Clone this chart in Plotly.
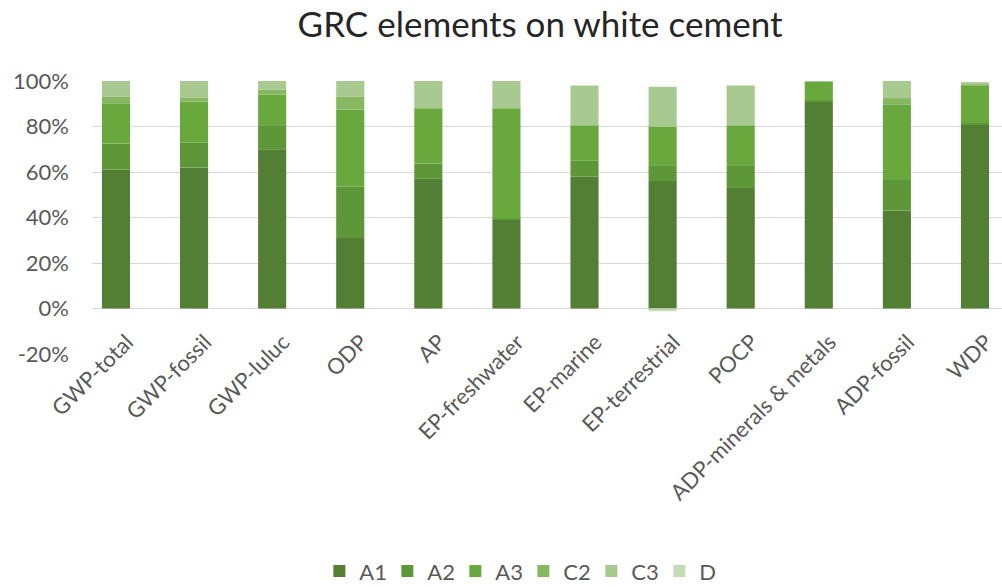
import plotly.graph_objects as go

categories = ["GWP-total", "GWP-fossil", "GWP-luluc", "ODP", "AP", "EP-freshwater",
              "EP-marine", "EP-terrestrial", "POCP", "ADP-minerals & metals",
              "ADP-fossil", "WDP"]

A1 = [61, 62, 70, 31, 57, 39, 58, 56, 53, 91, 43, 81]
A2 = [11.5, 11, 10.6, 22.5, 6.7, 0.5, 7, 7, 10, 0.6, 13.5, 0.5]
A3 = [17.7, 18, 13.5, 34, 24.3, 48.5, 15.5, 17, 17.5, 8, 33, 16.5]
C2 = [3, 1.5, 2, 5.5, 0, 0, 0, 0, 0, 0, 3, 0.3]
C3 = [6.8, 7.5, 3.9, 7, 12, 12, 17.5, 17.5, 17.5, 0.4, 7.5, 1.2]
D = [0, 0, 0, 0, 0, 0, 0, -1.2, 0, 0, 0, 0]

y_ticks = [-20, 0, 20, 40, 60, 80, 100]
y_tick_labels = ["-20%", "0%", "20%", "40%", "60%", "80%", "100%"]

series = [("A1", A1, "#527f33"), ("A2", A2, "#5e9738"), ("A3", A3, "#68a83d"),
          ("C2", C2, "#86b862"), ("C3", C3, "#a8c98f"), ("D", D, "#c5dbb5")]

FONT = "Lato"
GREY = "#595959"

fig = go.Figure()
for name, vals, col in series:
    fig.add_trace(go.Bar(x=categories, y=vals, name=name, marker=dict(color=col, line=dict(width=0))))

fig.update_layout(
    barmode="relative",
    bargap=0.64,
    width=1002, height=587,
    margin=dict(l=92, r=0, t=81, b=233),
    paper_bgcolor="white", plot_bgcolor="white",
    font=dict(family=FONT, color=GREY, size=22),
    title=dict(text="GRC elements on white cement", x=0.539, xanchor="center",
               yref="container", y=0.957, yanchor="middle",
               font=dict(family=FONT, size=35, color="#262626")),
    legend=dict(orientation="h", x=0.474, xanchor="center", yref="container", y=0.027,
                yanchor="middle", font=dict(size=22, color=GREY), entrywidth=23,
                traceorder="normal"),
    showlegend=True,
)
fig.update_xaxes(range=[-0.307, 11.346], showgrid=False, showline=False, zeroline=False,
                 tickangle=-45, tickfont=dict(size=22, color=GREY),
                 ticklabelstandoff=-30, ticklabelshift=11)
fig.update_yaxes(range=[-20, 100], tickmode="array", tickvals=y_ticks, ticktext=y_tick_labels,
                 showgrid=True, gridcolor="#d9d9d9", gridwidth=1, zeroline=True,
                 zerolinecolor="#d9d9d9", zerolinewidth=1, showline=False,
                 tickfont=dict(size=22, color=GREY), ticklabelstandoff=22)

fig.write_html("out.html")
